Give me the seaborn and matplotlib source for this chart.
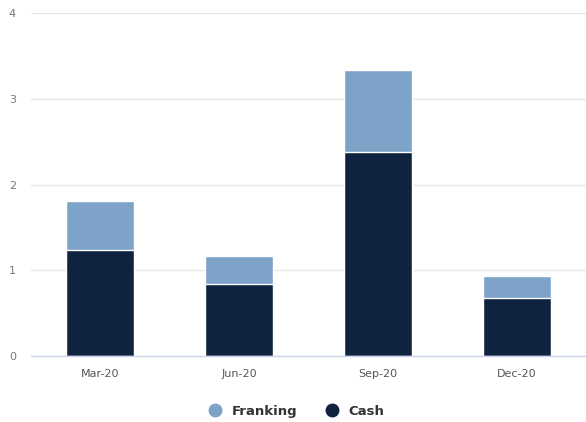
import matplotlib
matplotlib.use("Agg")
import matplotlib.pyplot as plt
from matplotlib.lines import Line2D
import seaborn as sns
import pandas as pd

categories = ["Mar-20", "Jun-20", "Sep-20", "Dec-20"]
cash = [1.24, 0.84, 2.38, 0.68]
franking = [0.57, 0.33, 0.96, 0.26]
yticks = [0, 1, 2, 3, 4]

total = [c + f for c, f in zip(cash, franking)]
df = pd.DataFrame({"period": categories, "Cash": cash, "Franking": franking, "Total": total})

sns.set_theme(style="white")
plt.rcParams['font.family'] = ['DejaVu Sans']

fig = plt.figure(figsize=(5.86, 4.22), dpi=100)
ax = fig.add_axes([0.053, 0.156, 0.947, 0.813])

c_cash = "#0f2340"
c_frank = "#7ea3c8"

sns.barplot(data=df, x="period", y="Total", color=c_frank, saturation=1, width=0.49,
            edgecolor="white", linewidth=1, ax=ax)
sns.barplot(data=df, x="period", y="Cash", color=c_cash, saturation=1, width=0.49,
            edgecolor="white", linewidth=1, ax=ax)

ax.set_ylim(0, 4)
ax.set_xlim(-0.5, 3.5)
ax.set_yticks(yticks)
ax.set_yticklabels([str(v) for v in yticks])
ax.set_xlabel("")
ax.set_ylabel("")
ax.grid(axis="y", color="#e6e6e6", linewidth=1)
ax.set_axisbelow(True)
for s in ["top", "right", "left"]:
    ax.spines[s].set_visible(False)
ax.spines["bottom"].set_color("#ccd6eb")
ax.spines["bottom"].set_linewidth(1)
ax.tick_params(axis="y", length=0, pad=16, labelsize=8, labelcolor="#777777")
ax.tick_params(axis="x", length=0, pad=9, labelsize=8, labelcolor="#555555")
for lbl in ax.get_yticklabels():
    lbl.set_horizontalalignment("left")

handles = [
    Line2D([0], [0], marker="o", linestyle="", markersize=9, markerfacecolor=c_frank, markeredgecolor=c_frank, label="Franking"),
    Line2D([0], [0], marker="o", linestyle="", markersize=9, markerfacecolor=c_cash, markeredgecolor=c_cash, label="Cash"),
]
leg = fig.legend(handles=handles, loc="center", bbox_to_anchor=(0.5, 0.025), ncol=2, frameon=False,
                 prop={"size": 9.5, "weight": "bold"}, handletextpad=0.3, columnspacing=1.6)
for t in leg.get_texts():
    t.set_color("#333333")

fig.savefig("out.png", dpi=100)
